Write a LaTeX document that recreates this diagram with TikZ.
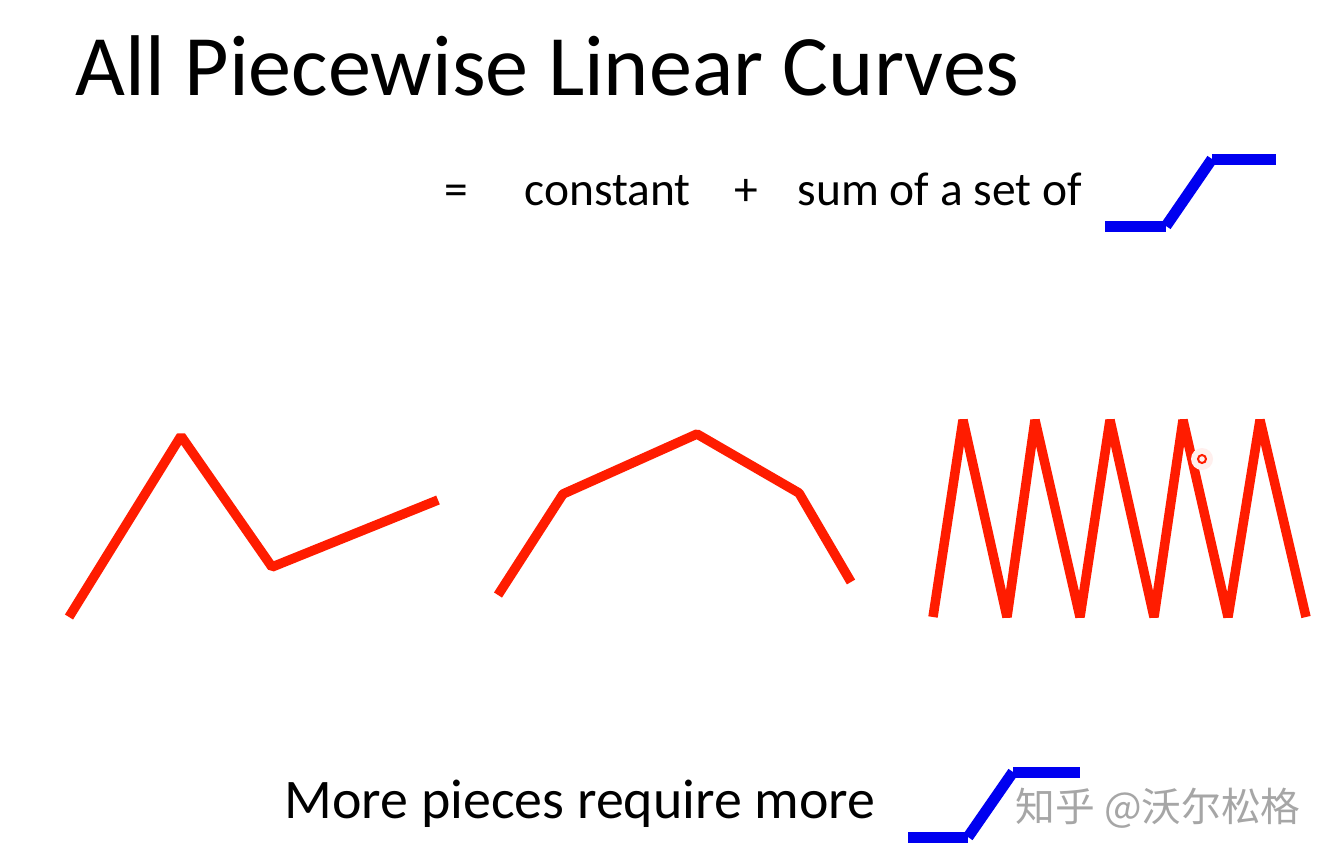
\documentclass[tikz,border=0pt]{standalone}
\usepackage{fontspec}
\setmainfont{Carlito}
\newfontfamily\cjkfont{Noto Sans CJK SC}
\definecolor{curveR}{RGB}{255,28,0}
\definecolor{stepB}{RGB}{0,0,240}

\begin{document}
\begin{tikzpicture}[x=0.01cm, y=-0.01cm,
  title/.style={anchor=base west, inner sep=0pt, font=\fontsize{24.5}{30}\selectfont},
  eqtxt/.style={anchor=base west, inner sep=0pt, font=\fontsize{13.5}{16}\selectfont},
  note/.style={anchor=base west, inner sep=0pt, font=\fontsize{15.9}{19}\selectfont},
  piece/.style={draw=curveR, line width=0.095cm, line join=bevel},
  ramp/.style={draw=stepB, line width=0.11cm}]
  \fill[white] (0,0) rectangle (1336,863);
  \useasboundingbox (0,0) rectangle (1336,863);

  \node[title] (head) at (75,95) {All Piecewise Linear Curves};
  \node[eqtxt] (eq)    at (444,205) {=};
  \node[eqtxt] (const) at (524,205) {constant};
  \node[eqtxt] (plus)  at (734,205) {+};
  \node[eqtxt] (sumof) at (797,205) {sum of a set of};

  % hard sigmoid, top
  \draw[ramp] (1105,226) -- (1166,226);
  \draw[ramp] (1166,226) -- (1212,159);
  \draw[ramp] (1212,159) -- (1276,159);

  % three piecewise linear curves
  \draw[piece] (69,617) -- (181,436) -- (272,567) -- (438,500);
  \draw[piece] (498,595) -- (563,494) -- (697,434) -- (799,493) -- (851,582);
  \draw[piece] (933,617) -- (963,420) -- (1007,617) -- (1035,420) -- (1080,617)
    -- (1110,420) -- (1154,617) -- (1183,420) -- (1228,617) -- (1260,420) -- (1306,617);

  % pointer
  \fill[curveR!7] (1202,459) circle (11);
  \draw[curveR, line width=0.02cm] (1202,459) circle (4);

  \node[note] (more) at (284,818) {More pieces require more};

  % hard sigmoid, bottom
  \draw[ramp] (908,837) -- (968,837);
  \draw[ramp] (968,837) -- (1013,772);
  \draw[ramp] (1013,772) -- (1080,772);

  \node[anchor=west, inner sep=0pt, text=black!35, font=\cjkfont\fontsize{11.3}{13}\selectfont]
    (mark) at (1015,808) {知乎 @沃尔松格};
\end{tikzpicture}
\end{document}
